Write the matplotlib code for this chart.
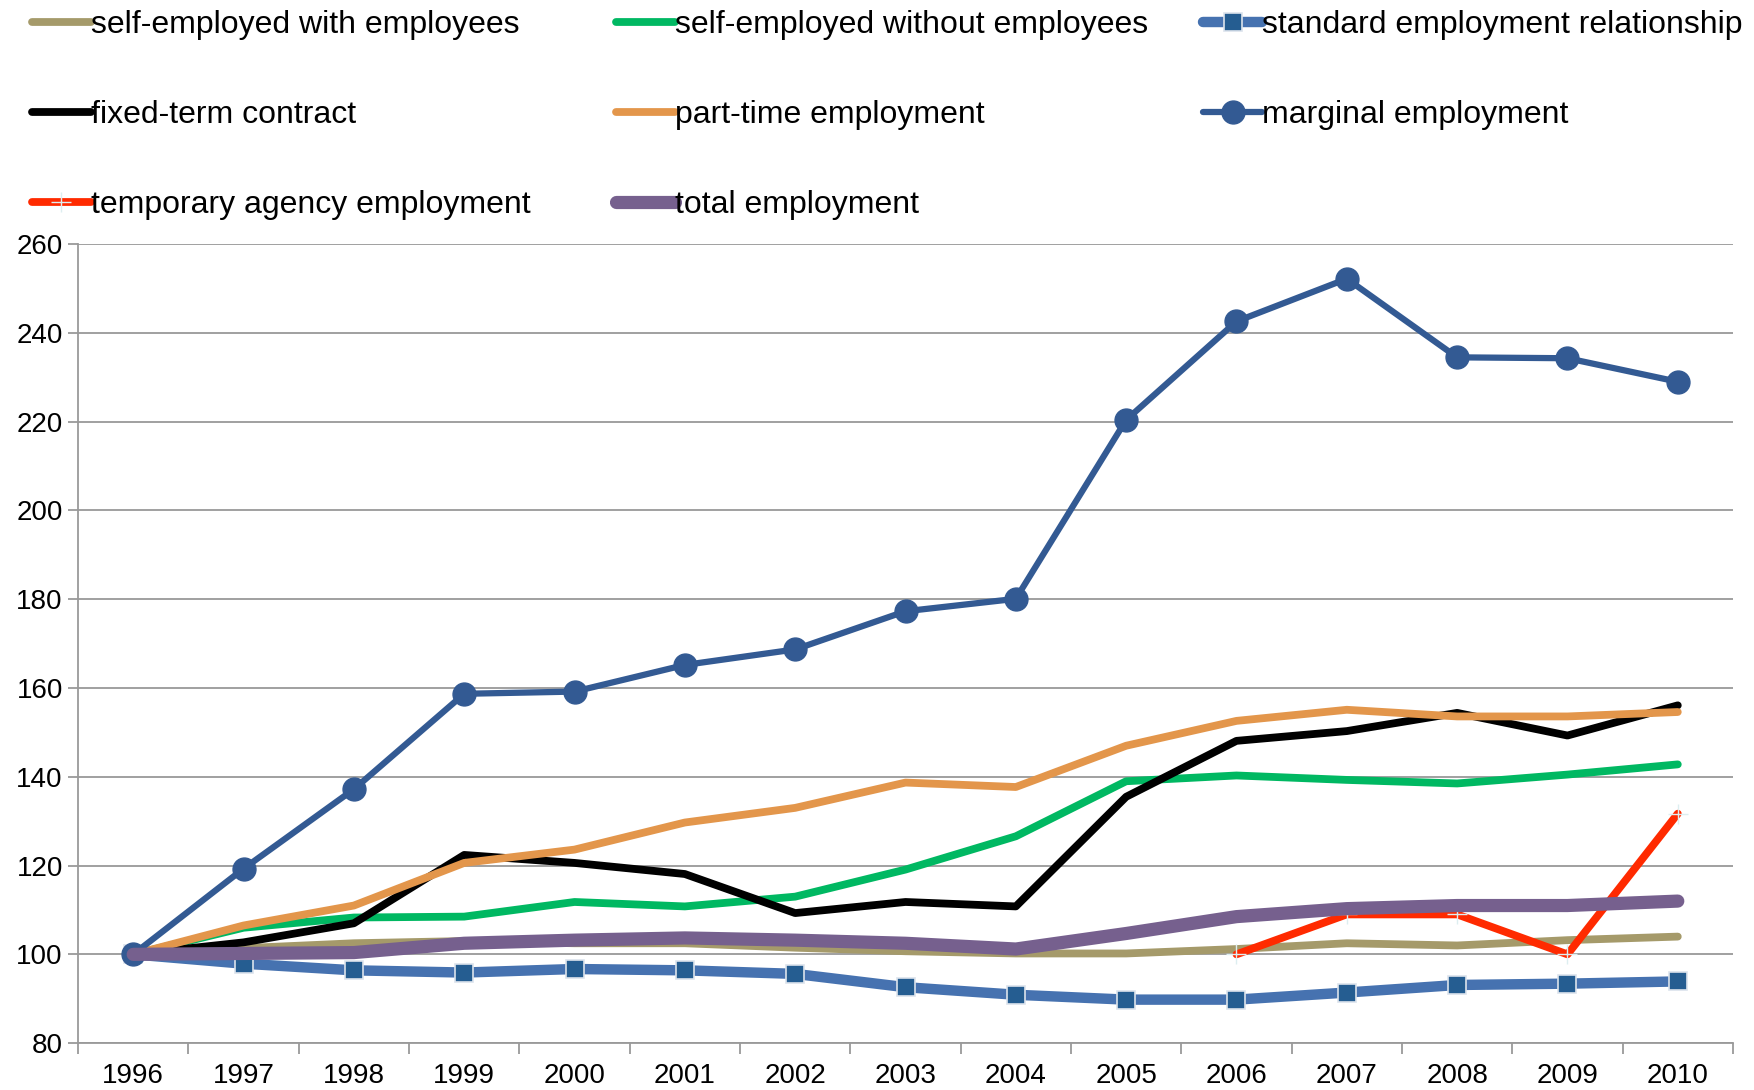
import matplotlib.pyplot as plt

plt.rcParams['font.family'] = ['Liberation Sans', 'DejaVu Sans']

years = [str(y) for y in range(1996, 2011)]

self_with = [100, 101.4, 102.5, 103.0, 102.5, 102.5, 101.5, 100.7, 100.2, 100.2, 101.2, 102.5, 102.0, 103.2, 104.0]
self_without = [100, 106.0, 108.3, 108.5, 111.8, 110.8, 113.0, 119.1, 126.6, 139.0, 140.3, 139.3, 138.5, 140.5, 142.8]
standard = [100, 97.9, 96.4, 95.9, 96.7, 96.4, 95.6, 92.6, 90.9, 89.8, 89.8, 91.4, 93.1, 93.4, 93.9]
fixed_term = [100, 102.7, 107.0, 122.4, 120.6, 118.1, 109.3, 111.8, 110.8, 135.5, 148.1, 150.3, 154.4, 149.3, 156.1]
part_time = [100, 106.5, 111.0, 120.6, 123.6, 129.7, 133.0, 138.7, 137.7, 147.0, 152.6, 155.1, 153.6, 153.6, 154.6]
marginal = [100, 119.3, 137.2, 158.7, 159.2, 165.2, 168.7, 177.3, 180.1, 220.4, 242.6, 252.2, 234.5, 234.3, 229.0]
agency_years = years[10:]
agency = [100, 109.0, 109.0, 100.0, 131.7]
total = [100, 100.2, 100.4, 102.5, 103.2, 103.7, 103.2, 102.5, 101.2, 104.7, 108.5, 110.3, 111.0, 111.0, 112.0]

fig = plt.figure(figsize=(17.54, 10.90), dpi=100)
ax = fig.add_axes([0.0445, 0.043, 0.9435, 0.733])

x = list(range(len(years)))
xa = [years.index(y) for y in agency_years]
style = dict(solid_capstyle='round', solid_joinstyle='round')

l1, = ax.plot(x, self_with, color='#A59A6A', lw=5.6, label='self-employed with employees', **style)
l2, = ax.plot(x, self_without, color='#00B862', lw=5.6, label='self-employed without employees', **style)
l3, = ax.plot(x, standard, color='#4672B0', lw=7.5, marker='s', ms=13, mfc='#255D91',
              mec='#DCE3EC', mew=1.2, label='standard employment relationship', **style)
l4, = ax.plot(x, fixed_term, color='black', lw=5.6, label='fixed-term contract', **style)
l5, = ax.plot(x, part_time, color='#E3964B', lw=5.6, label='part-time employment', **style)
l6, = ax.plot(x, marginal, color='#335A93', lw=4.5, marker='o', ms=16.5, mfc='#335A93',
              mec='#335A93', label='marginal employment', **style)
l7, = ax.plot(xa, agency, color='#FF2A00', lw=5.6, marker='+', ms=14, mec='#DDEEF0', mew=1,
              label='temporary agency employment', **style)
l8, = ax.plot(x, total, color='#76608E', lw=9.5, label='total employment', **style)

ax.set_xlim(-0.5, 14.5)
ax.set_ylim(80, 260)
ax.set_yticks(range(80, 261, 20))
ax.set_xticks(x)
ax.set_xticklabels(years)
ax.set_xticks([i - 0.5 for i in range(16)], minor=True)
ax.tick_params(axis='x', which='major', length=0, pad=14, labelsize=20)
ax.tick_params(axis='x', which='minor', length=8, color='#9A9A9A', width=1.3)
ax.tick_params(axis='y', length=7, color='#9A9A9A', width=1.3, labelsize=20, pad=4)
ax.grid(axis='y', color='#A0A0A0', lw=1.4)
ax.set_axisbelow(True)
for side in ['top', 'right']:
    ax.spines[side].set_visible(False)
for side in ['left', 'bottom']:
    ax.spines[side].set_color('#9A9A9A')
    ax.spines[side].set_linewidth(1.3)

# legend laid out as three columns across the top
columns = [[l1, l4, l7], [l2, l5, l8], [l3, l6]]
col_x = [0.018, 0.351, 0.686]
for hs, cx in zip(columns, col_x):
    fig.legend(handles=hs, loc='upper left', bbox_to_anchor=(cx, 0.991), frameon=False,
               fontsize=23, handlelength=1.85, handletextpad=0.0, labelspacing=1.88,
               borderaxespad=0.0, borderpad=0.0)

fig.savefig('out.png', dpi=100)
